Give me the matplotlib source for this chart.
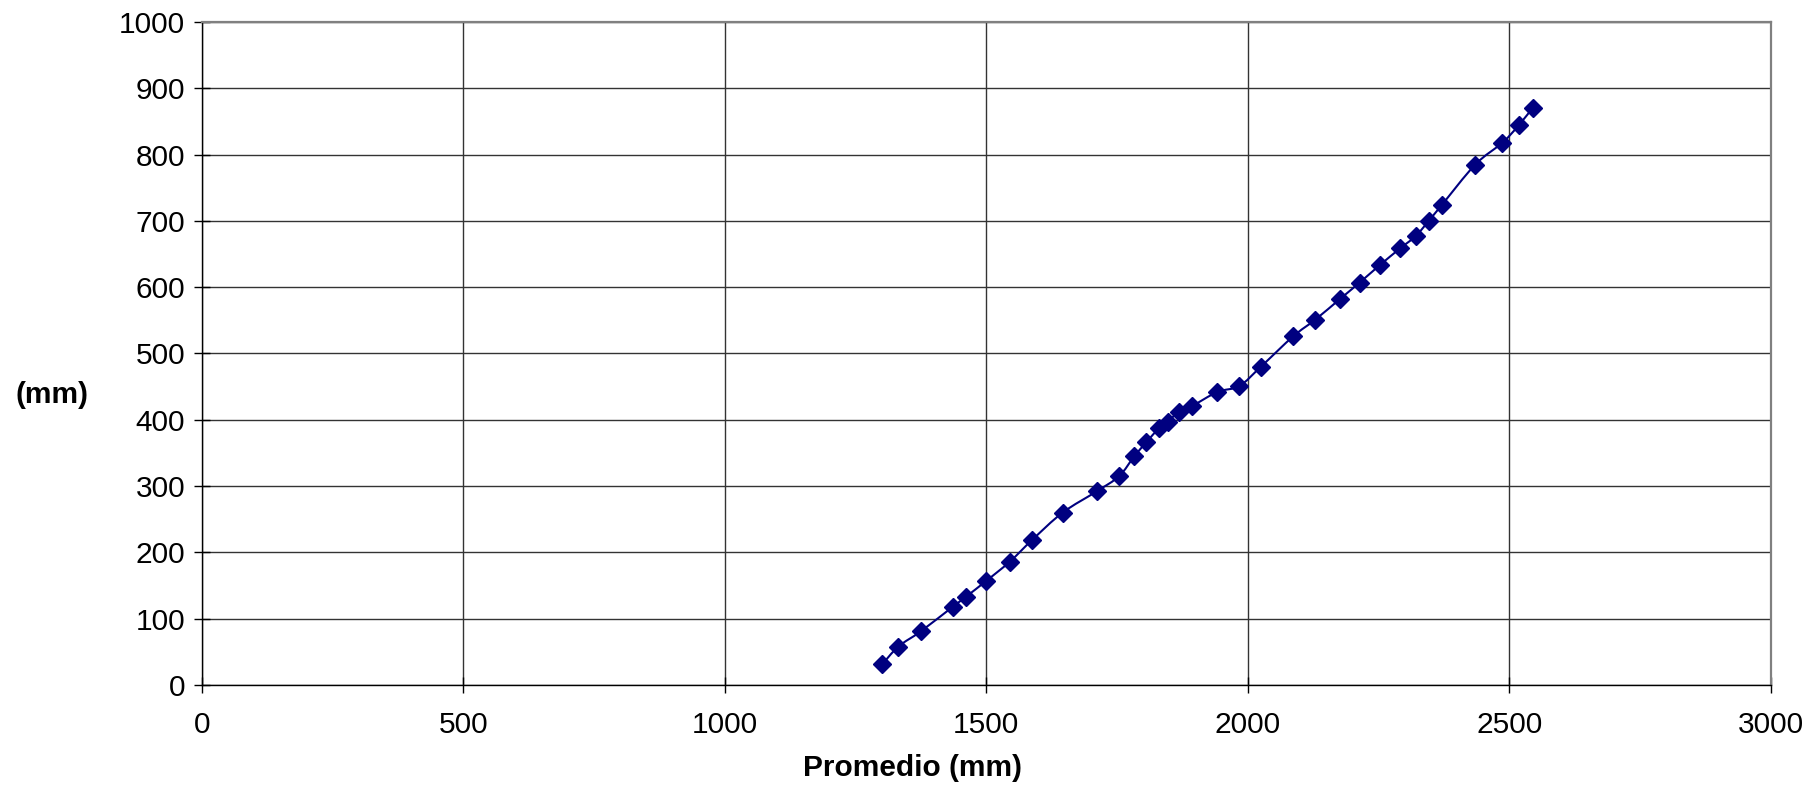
import matplotlib
matplotlib.use("Agg")
import matplotlib.pyplot as plt
from matplotlib.path import Path
from matplotlib.patches import PathPatch
import numpy as np

plt.rcParams['font.family'] = ['Liberation Sans', 'DejaVu Sans']

# Measured data: average (mm) vs value (mm)
promedio = [1301, 1332, 1375, 1436, 1461, 1500, 1545, 1588, 1646, 1711,
            1754, 1783, 1806, 1831, 1847, 1868, 1894, 1942, 1984, 2025,
            2087, 2129, 2176, 2214, 2252, 2292, 2321, 2346, 2371, 2435,
            2487, 2519, 2545]
valores = [31, 58, 81, 118, 133, 157, 186, 219, 260, 292,
           315, 345, 366, 388, 397, 412, 421, 442, 451, 480,
           526, 551, 582, 607, 633, 659, 677, 700, 724, 785,
           818, 845, 871]

x_ticks = [0, 500, 1000, 1500, 2000, 2500, 3000]
y_ticks = [0, 100, 200, 300, 400, 500, 600, 700, 800, 900, 1000]

fig = plt.figure(figsize=(18.11, 7.85), dpi=100)
ax = fig.add_axes([0.1114, 0.1274, 0.8664, 0.8446])

ax.set_xlim(0, 3000)
ax.set_ylim(0, 1000)
ax.set_xticks(x_ticks)
ax.set_yticks(y_ticks)
ax.tick_params(direction='inout', length=12, width=1, labelsize=21.5,
               color='black')
ax.tick_params(axis='x', pad=13)
ax.tick_params(axis='y', pad=6)
ax.grid(True, color='#333333', linewidth=1)
ax.set_axisbelow(True)
for side, sp in ax.spines.items():
    if side in ('top', 'right'):
        sp.set_linewidth(1.6)
        sp.set_color('#808080')
    else:
        sp.set_linewidth(1)
        sp.set_color('black')

# Smoothed connecting line (Catmull-Rom style cubic Bezier segments)
xs = np.asarray(promedio, dtype=float)
ys = np.asarray(valores, dtype=float)
n = len(xs)
verts = [(xs[0], ys[0])]
codes = [Path.MOVETO]
t = 1.0 / 6.0
for i in range(n - 1):
    p0 = (xs[max(i - 1, 0)], ys[max(i - 1, 0)])
    p1 = (xs[i], ys[i])
    p2 = (xs[i + 1], ys[i + 1])
    p3 = (xs[min(i + 2, n - 1)], ys[min(i + 2, n - 1)])
    c1 = (p1[0] + (p2[0] - p0[0]) * t, p1[1] + (p2[1] - p0[1]) * t)
    c2 = (p2[0] - (p3[0] - p1[0]) * t, p2[1] - (p3[1] - p1[1]) * t)
    verts += [c1, c2, p2]
    codes += [Path.CURVE4] * 3
ax.add_patch(PathPatch(Path(verts, codes), facecolor='none',
                       edgecolor='#000080', linewidth=1.5, zorder=3))

ax.plot(promedio, valores, linestyle='none', marker='D', markersize=9,
        color='#000080', zorder=4)

fig.text(0.0287, 0.497, '(mm)', fontsize=21.5, fontweight='bold',
         ha='center', va='center')
fig.text(0.5036, 0.0217, 'Promedio (mm)', fontsize=21.5, fontweight='bold',
         ha='center', va='center')

fig.savefig('out.png', dpi=100, facecolor='white')
